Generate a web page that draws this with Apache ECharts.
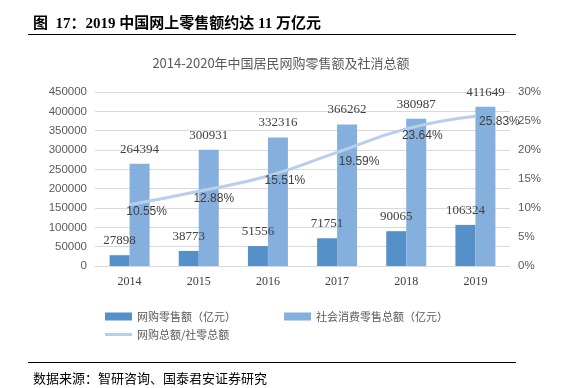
<!DOCTYPE html>
<html><head><meta charset="utf-8">
<script src="https://cdn.jsdelivr.net/npm/echarts@6/dist/echarts.min.js"></script>
<style>html,body{margin:0;padding:0;background:#fff}#c{width:562px;height:388px}</style>
</head><body><div id="c"></div>
<script>
var years = ['2014','2015','2016','2017','2018','2019'];
var onlineSales = [27898, 38773, 51556, 71751, 90065, 106324];
var totalRetail = [264394, 300931, 332316, 366262, 380987, 411649];
var shareRatio = [10.55, 12.88, 15.51, 19.59, 23.64, 25.83];
var leftTicks = [0, 450000, 50000];
var rightTicks = [0, 30, 5];

var lineLabelOffsets = [[17,7],[15,7],[17,5],[22,9],[16,7],[24,6]];
var sans = '"Noto Sans CJK SC", "Liberation Sans", sans-serif';
var latin = '"Liberation Sans", "Noto Sans CJK SC", sans-serif';
var serif = '"Liberation Serif", "Noto Sans CJK SC", serif';
var legendText = {fontFamily: sans, fontSize: 11, color: '#595959'};
var lineColor = '#b7cfe9';

var chart = echarts.init(document.getElementById('c'));
chart.setOption({
  animation: false,
  title: [
    {text: '图  17：2019 中国网上零售额约达 11 万亿元', left: 28, top: 12,
     textStyle: {fontFamily: serif, fontSize: 15, fontWeight: 'bold', color: '#000'}},
    {text: '2014-2020年中国居民网购零售额及社消总额', left: 'center', top: 52,
     textStyle: {fontFamily: sans, fontSize: 13, fontWeight: 'normal', color: '#595959'}},
    {text: '数据来源：智研咨询、国泰君安证券研究', left: 28, top: 368,
     textStyle: {fontFamily: serif, fontSize: 13, fontWeight: 'normal', color: '#000'}}
  ],
  graphic: [
    {type: 'line', shape: {x1: 28, y1: 34.5, x2: 516, y2: 34.5}, style: {stroke: '#000', lineWidth: 1}},
    {type: 'line', shape: {x1: 28, y1: 362.5, x2: 516, y2: 362.5}, style: {stroke: '#000', lineWidth: 1}}
  ],
  grid: {left: 95, right: 52, top: 92, bottom: 122, containLabel: false},
  legend: [
    {left: 100, top: 306, itemWidth: 27, itemHeight: 8, textStyle: legendText,
     data: [{name: '网购零售额（亿元）', icon: 'rect'}]},
    {left: 279, top: 306, itemWidth: 27, itemHeight: 8, textStyle: legendText,
     data: [{name: '社会消费零售总额（亿元）', icon: 'rect'}]},
    {left: 100, top: 324, itemWidth: 27, itemHeight: 3, textStyle: legendText,
     itemStyle: {color: lineColor, opacity: 1},
     data: [{name: '网购总额/社零总额', icon: 'rect'}]}
  ],
  xAxis: {
    type: 'category', data: years,
    axisLine: {lineStyle: {color: '#d9d9d9'}},
    axisTick: {show: false},
    axisLabel: {fontFamily: serif, fontSize: 12, color: '#404040', margin: 10}
  },
  yAxis: [
    {type: 'value', min: leftTicks[0], max: leftTicks[1], interval: leftTicks[2],
     axisLine: {show: false}, axisTick: {show: false},
     axisLabel: {fontFamily: latin, fontSize: 11.5, color: '#595959', margin: 8,
       formatter: function (v) { return String(v); }},
     splitLine: {lineStyle: {color: '#d9d9d9'}}},
    {type: 'value', min: rightTicks[0], max: rightTicks[1], interval: rightTicks[2],
     axisLine: {show: false}, axisTick: {show: false},
     axisLabel: {fontFamily: latin, fontSize: 11.5, color: '#595959', margin: 8, formatter: '{value}%'},
     splitLine: {show: false}}
  ],
  series: [
    {name: '网购零售额（亿元）', type: 'bar', data: onlineSales, barWidth: 20, barGap: '0%',
     itemStyle: {color: '#5590c8'},
     label: {show: true, position: 'top', distance: 8, fontFamily: serif, fontSize: 13, color: '#404040'}},
    {name: '社会消费零售总额（亿元）', type: 'bar', data: totalRetail, barWidth: 20,
     itemStyle: {color: '#85afdd'},
     label: {show: true, position: 'top', distance: 8, fontFamily: serif, fontSize: 13, color: '#404040'}},
    {name: '网购总额/社零总额', type: 'line', yAxisIndex: 1, smooth: true,
     symbol: 'circle', symbolSize: 2, showSymbol: true,
     lineStyle: {color: lineColor, width: 3}, itemStyle: {color: lineColor},
     data: shareRatio.map(function (v, i) {
       return {value: v, label: {offset: lineLabelOffsets[i]}};
     }),
     label: {show: true, position: 'inside', fontFamily: latin, fontSize: 12, color: '#404040',
       formatter: function (p) { return p.value.toFixed(2) + '%'; }}}
  ]
});
</script></body></html>
